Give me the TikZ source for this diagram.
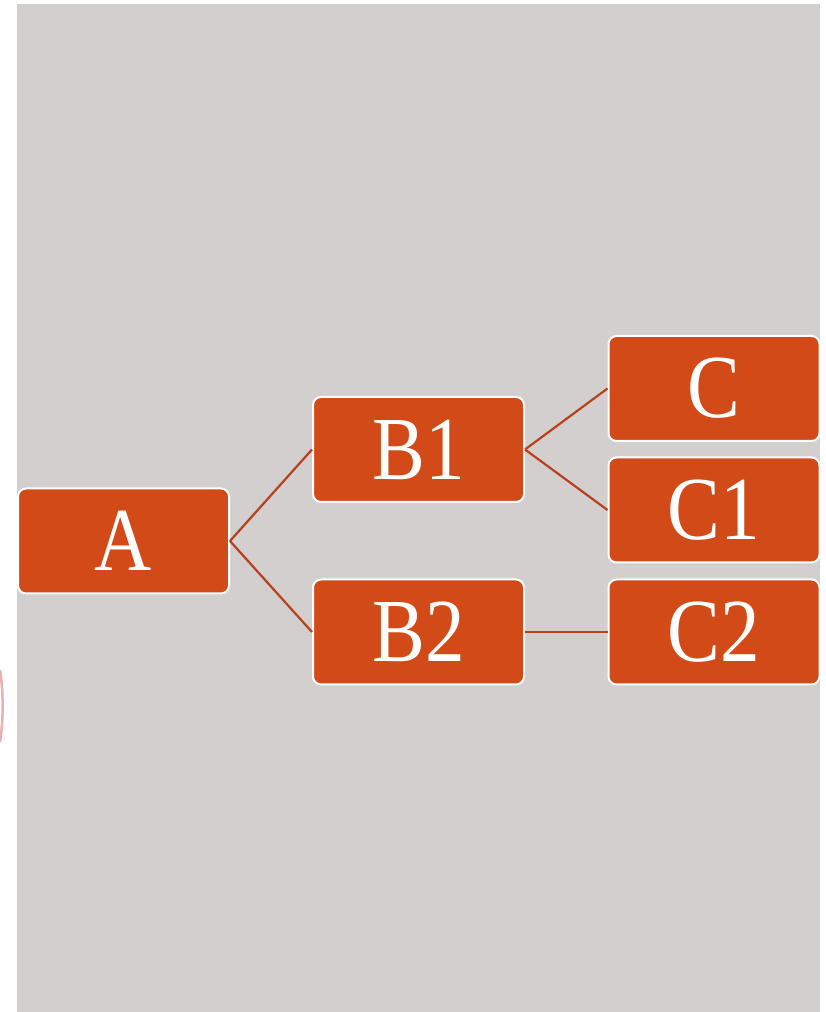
\documentclass[tikz,border=0pt]{standalone}
\usepackage{fontspec}
\usepackage{graphicx}
\setmainfont{Liberation Serif}
\definecolor{bggrey}{RGB}{211,207,206}
\definecolor{boxfill}{RGB}{210,74,23}
\definecolor{linkcol}{RGB}{184,64,26}
\definecolor{arcpink}{RGB}{236,176,176}
\newcommand{\narrowtxt}[1]{\scalebox{0.88}[1]{#1}}
\begin{document}
\begin{tikzpicture}[x=1pt,y=1pt,
  treebox/.style={draw=white,line width=2pt,fill=boxfill,rounded corners=8pt,
    minimum width=211pt,minimum height=105pt,inner sep=0pt,text=white,
    font=\fontsize{90}{90}\selectfont},
  link/.style={draw=linkcol,line width=2.2pt}]
\useasboundingbox (0,0) rectangle (825,1012);
\fill[white] (0,0) rectangle (825,1012);
\fill[bggrey] (17,0) rectangle (820,1008);
\draw[arcpink,line width=2.5pt] (0,342) .. controls (3.5,320) and (3.5,292) .. (0,270);
\node[treebox] (A)  at (123.5,471) {\narrowtxt{A}};
\node[treebox] (B1) at (418.5,562.5) {\narrowtxt{B1}};
\node[treebox] (B2) at (418.5,380) {\narrowtxt{B2}};
\node[treebox] (C)  at (714,623.5) {\narrowtxt{C}};
\node[treebox] (C1) at (714,502) {\narrowtxt{C1}};
\node[treebox] (C2) at (714,380) {\narrowtxt{C2}};
\draw[link] (A.east) -- (B1.west);
\draw[link] (A.east) -- (B2.west);
\draw[link] (B1.east) -- (C.west);
\draw[link] (B1.east) -- (C1.west);
\draw[link] (B2.east) -- (C2.west);
\end{tikzpicture}
\end{document}
